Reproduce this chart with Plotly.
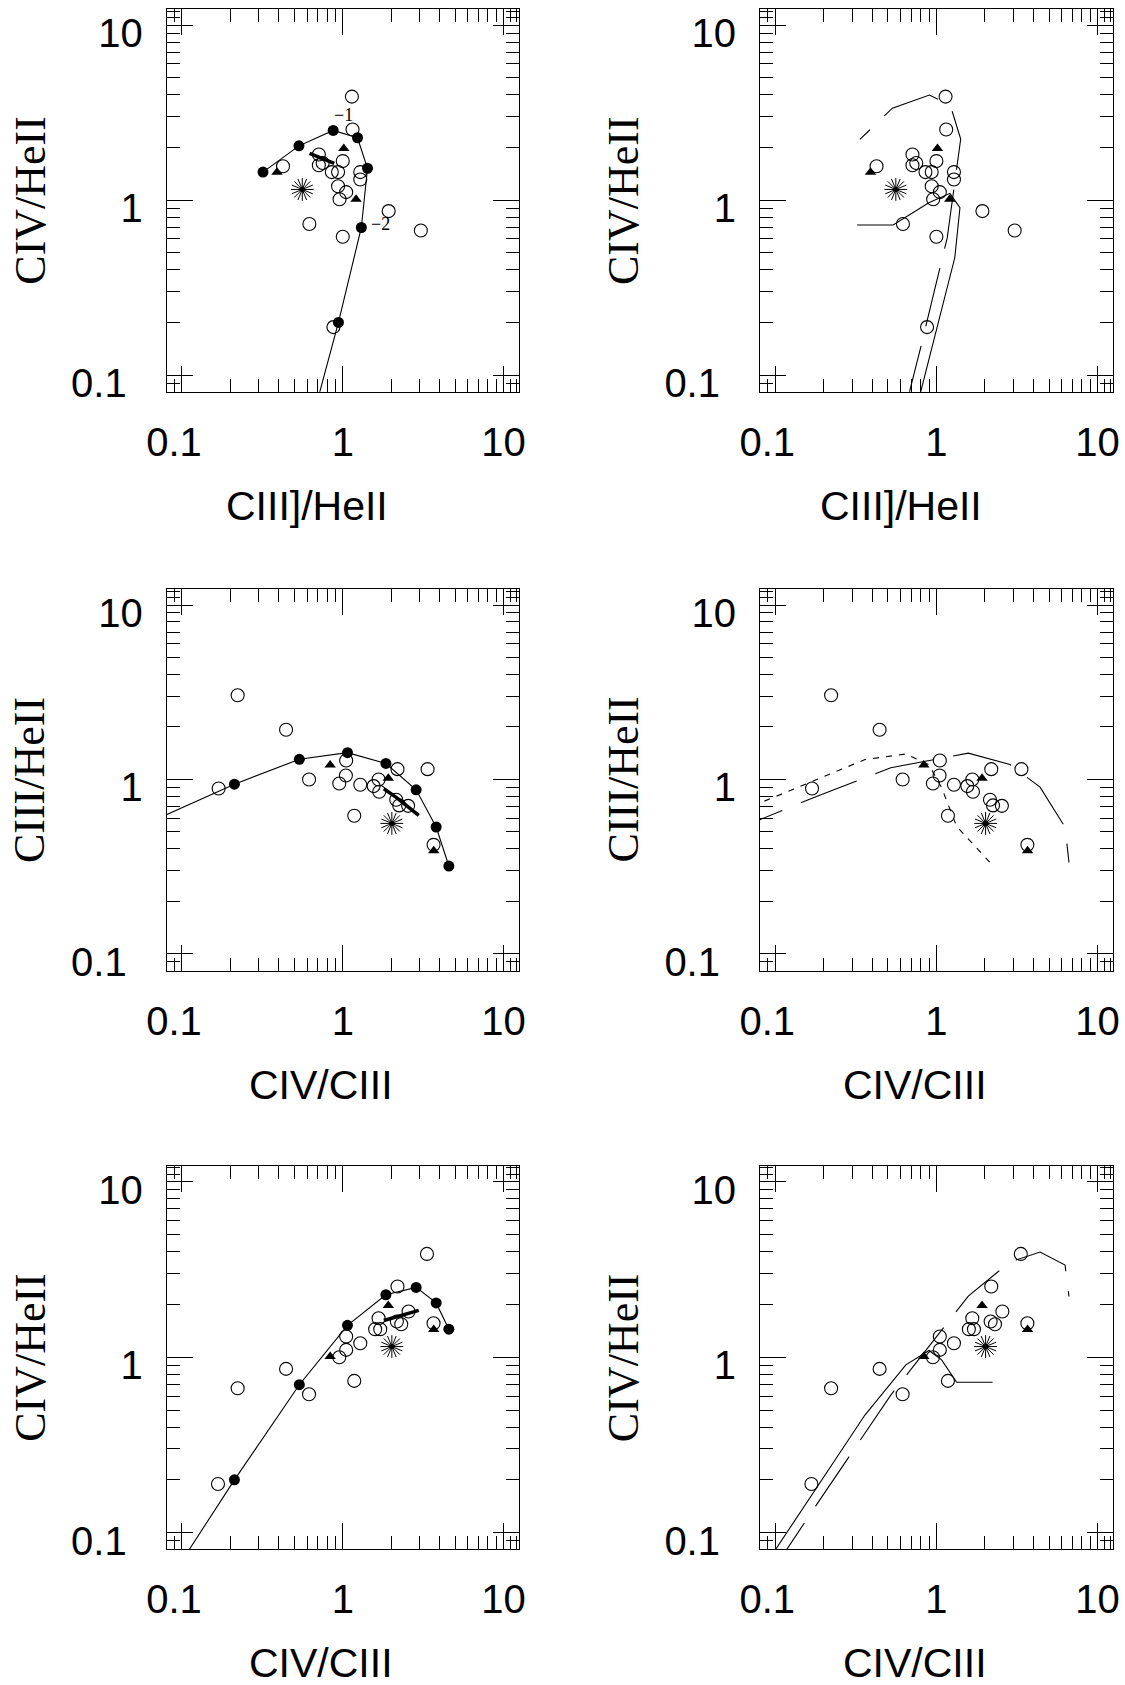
import math
import plotly.graph_objects as go

# ---------------- observed objects (read from the figure) ----------------
# top row: x = CIII]/HeII, y = CIV/HeII
top_ciii_heii = [1.14, 1.15, 0.425, 0.71, 0.75, 0.71, 0.855, 0.935, 1.0, 1.285,
                 1.285, 0.935, 1.05, 0.955, 1.93, 3.06, 0.62, 1.0, 0.875]
top_civ_heii = [3.9, 2.53, 1.56, 1.82, 1.63, 1.58, 1.445, 1.445, 1.67, 1.445,
                1.31, 1.2, 1.11, 1.01, 0.865, 0.67, 0.73, 0.617, 0.188]
# middle row: x = CIV/CIII, y = CIII/HeII
mid_civ_ciii = [0.222, 0.444, 1.05, 1.046, 0.951, 0.617, 1.285, 1.556, 1.671, 1.686,
                2.19, 3.37, 2.15, 2.245, 2.55, 1.179, 0.169, 3.67]
mid_ciii_heii = [3.04, 1.926, 1.285, 1.054, 0.949, 1.0, 0.932, 0.916, 1.0, 0.85,
                 1.146, 1.146, 0.765, 0.71, 0.706, 0.619, 0.888, 0.422]
# bottom row: x = CIV/CIII, y = CIV/HeII
bot_civ_ciii = [3.34, 2.19, 1.67, 1.59, 1.71, 2.17, 2.31, 2.566, 1.05, 1.05,
                1.285, 0.951, 0.444, 0.617, 1.179, 0.222, 0.1675, 3.67]
bot_civ_heii = [3.88, 2.53, 1.669, 1.445, 1.445, 1.598, 1.542, 1.821, 1.312, 1.101,
                1.202, 1.0, 0.858, 0.615, 0.733, 0.666, 0.1895, 1.563]

# filled triangles
tri_ciii_heii = [0.39, 1.015, 1.21]
tri_civ_heii = [1.44, 1.97, 1.01]
tri_civ_ciii = [3.68, 1.92, 0.835]

# starburst object
star_ciii_heii = [0.56]
star_civ_heii = [1.15]
star_civ_ciii = [2.02]

# thick short track
track_ciii_heii = [0.622, 0.70, 0.79, 0.885]
track_civ_heii = [1.848, 1.77, 1.70, 1.62]
track_civ_ciii = [2.97, 2.53, 2.15, 1.80]

# model sequence with filled circles (left panels)
modelA_ciii_heii = [0.55, 0.94, 1.305, 1.425, 1.235, 0.872, 0.534, 0.319]
modelA_civ_heii = [0.032, 0.200, 0.697, 1.52, 2.27, 2.50, 2.04, 1.445]
modelA_civ_ciii = [0.058, 0.212, 0.537, 1.07, 1.855, 2.86, 3.81, 4.57]
modelA_labels = ["\u22121", "\u22122"]
modelA_label_index = [5, 2]

# right-panel models
modelB_ciii_heii = [0.659, 1.30, 1.40, 1.213, 0.897, 0.539, 0.322]
modelB_civ_heii = [0.040, 0.468, 0.904, 1.092, 0.966, 0.72, 0.72]
modelB_civ_ciii = [0.0607, 0.36, 0.646, 0.90, 1.077, 1.335, 2.23]

modelC_ciii_heii = [0.492, 0.799, 1.167, 1.415, 1.219, 0.904, 0.533, 0.335]
modelC_civ_heii = [0.0246, 0.144, 0.608, 2.23, 3.49, 3.98, 3.35, 2.22]
modelC_civ_ciii = [0.05, 0.18, 0.521, 1.578, 2.86, 4.40, 6.29, 6.65]

# axis labels
major_ticks = [0.1, 1, 10]
major_text = ["0.1\u2009\u2009", "1", "10"]
minor_ticks = [0.08, 0.09, 0.2, 0.3, 0.4, 0.5, 0.6, 0.7, 0.8, 0.9,
               2, 3, 4, 5, 6, 7, 8, 9, 11, 12]

# ---------------- layout geometry (page pixels) ----------------
W, H = 1125, 1685
col_px = {"L": (166.7, 519.3), "R": (760.0, 1113.3)}
row_px = {"top": (9.3, 391.7), "mid": (589.3, 970.5), "bot": (1166.0, 1549.3)}

def fx(p):
    return p / W

def fy(p):
    return 1 - p / H

SANS = "Liberation Sans, Arial, Helvetica, sans-serif"
SERIF = "Liberation Serif, Times New Roman, serif"
BLACK = "black"

fig = go.Figure()

panels = [
    (1, "L", "top", "ciii_heii", "civ_heii", "CIII]/HeII", "CIV/HeII", "left"),
    (2, "R", "top", "ciii_heii", "civ_heii", "CIII]/HeII", "CIV/HeII", "right"),
    (3, "L", "mid", "civ_ciii", "ciii_heii", "CIV/CIII", "CIII/HeII", "left"),
    (4, "R", "mid", "civ_ciii", "ciii_heii", "CIV/CIII", "CIII/HeII", "right"),
    (5, "L", "bot", "civ_ciii", "civ_heii", "CIV/CIII", "CIV/HeII", "left"),
    (6, "R", "bot", "civ_ciii", "civ_heii", "CIV/CIII", "CIV/HeII", "right"),
]

obs = {
    "top": (top_ciii_heii, top_civ_heii),
    "mid": (mid_civ_ciii, mid_ciii_heii),
    "bot": (bot_civ_ciii, bot_civ_heii),
}
tri = {"ciii_heii": tri_ciii_heii, "civ_heii": tri_civ_heii, "civ_ciii": tri_civ_ciii}
star = {"ciii_heii": star_ciii_heii, "civ_heii": star_civ_heii, "civ_ciii": star_civ_ciii}
track = {"ciii_heii": track_ciii_heii, "civ_heii": track_civ_heii, "civ_ciii": track_civ_ciii}
mA = {"ciii_heii": modelA_ciii_heii, "civ_heii": modelA_civ_heii, "civ_ciii": modelA_civ_ciii}
mB = {"ciii_heii": modelB_ciii_heii, "civ_heii": modelB_civ_heii, "civ_ciii": modelB_civ_ciii}
mC = {"ciii_heii": modelC_ciii_heii, "civ_heii": modelC_civ_heii, "civ_ciii": modelC_civ_ciii}

annotations = []
layout_axes = {}

for idx, col, row, xk, yk, xt, yt, side in panels:
    xa = "x" if idx == 1 else f"x{idx}"
    ya = "y" if idx == 1 else f"y{idx}"
    ox, oy = obs[row]

    # open circles
    fig.add_trace(go.Scatter(x=ox, y=oy, xaxis=xa, yaxis=ya, mode="markers",
                             marker=dict(symbol="circle-open", size=13, color=BLACK,
                                         line=dict(width=1.1, color=BLACK)),
                             showlegend=False, hoverinfo="skip"))
    # triangles
    fig.add_trace(go.Scatter(x=tri[xk], y=tri[yk], xaxis=xa, yaxis=ya, mode="markers",
                             marker=dict(symbol="triangle-up", size=10, color=BLACK),
                             showlegend=False, hoverinfo="skip"))
    # starburst
    for ang in (0, 22.5):
        fig.add_trace(go.Scatter(x=star[xk], y=star[yk], xaxis=xa, yaxis=ya, mode="markers",
                                 marker=dict(symbol="asterisk-open", size=19, angle=ang,
                                             color=BLACK, line=dict(width=1, color=BLACK)),
                                 showlegend=False, hoverinfo="skip"))
    fig.add_trace(go.Scatter(x=star[xk], y=star[yk], xaxis=xa, yaxis=ya, mode="markers",
                             marker=dict(symbol="circle", size=5, color=BLACK),
                             showlegend=False, hoverinfo="skip"))

    if side == "left":
        fig.add_trace(go.Scatter(x=mA[xk], y=mA[yk], xaxis=xa, yaxis=ya, mode="lines+markers",
                                 line=dict(color=BLACK, width=1.1),
                                 marker=dict(symbol="circle", size=11, color=BLACK),
                                 showlegend=False, hoverinfo="skip"))
        fig.add_trace(go.Scatter(x=track[xk], y=track[yk], xaxis=xa, yaxis=ya, mode="lines",
                                 line=dict(color=BLACK, width=3.5),
                                 showlegend=False, hoverinfo="skip"))
        if idx == 1:
            shifts = [(10, 15), (19, 4)]
            for lab, i, (dx, dy) in zip(modelA_labels, modelA_label_index, shifts):
                annotations.append(dict(x=math.log10(mA[xk][i]), y=math.log10(mA[yk][i]),
                                        xref=xa, yref=ya, text=lab, showarrow=False,
                                        xshift=dx, yshift=dy,
                                        font=dict(family=SERIF, size=18, color=BLACK)))
    else:
        bdash = "6px,7px" if row == "mid" else "solid"
        fig.add_trace(go.Scatter(x=mB[xk], y=mB[yk], xaxis=xa, yaxis=ya, mode="lines",
                                 line=dict(color=BLACK, width=1.1, dash=bdash),
                                 showlegend=False, hoverinfo="skip"))
        fig.add_trace(go.Scatter(x=mC[xk], y=mC[yk], xaxis=xa, yaxis=ya, mode="lines",
                                 line=dict(color=BLACK, width=1.1, dash="60px,20px"),
                                 showlegend=False, hoverinfo="skip"))

    x0, x1 = col_px[col]
    y0, y1 = row_px[row]
    common = dict(type="log", showline=True, linewidth=1, linecolor=BLACK,
                  mirror="allticks", ticks="inside", ticklen=26, tickwidth=1,
                  tickcolor=BLACK, tickmode="array", tickvals=major_ticks,
                  ticktext=major_text, showgrid=False, zeroline=False, automargin=False,
                  minor=dict(ticks="inside", ticklen=13, tickwidth=1, tickcolor=BLACK,
                             tickmode="array", tickvals=minor_ticks, showgrid=False),
                  tickfont=dict(family=SANS, size=40, color=BLACK))
    layout_axes["xaxis" if idx == 1 else f"xaxis{idx}"] = dict(
        common, range=[-1.095, 1.098], domain=[fx(x0), fx(x1)], anchor=ya,
        ticklabelstandoff=15)
    layout_axes["yaxis" if idx == 1 else f"yaxis{idx}"] = dict(
        common, range=[-1.095, 1.09], domain=[fy(y1), fy(y0)], anchor=xa,
        ticklabelstandoff=15, ticklabelshift=8)

    # axis titles
    xc = (x0 + x1) / 2 - (36 if row == "top" else 22)
    annotations.append(dict(x=fx(xc), y=fy(y1 + 114), xref="paper", yref="paper",
                            text=xt, showarrow=False, xanchor="center", yanchor="middle",
                            font=dict(family=SANS, size=41, color=BLACK)))
    annotations.append(dict(x=fx(x0 - 136.5), y=fy((y0 + y1) / 2), xref="paper",
                            yref="paper", text=yt, showarrow=False, textangle=-90,
                            xanchor="center", yanchor="middle",
                            font=dict(family=SERIF, size=44, color=BLACK)))

fig.update_layout(width=W, height=H, margin=dict(l=0, r=0, t=0, b=0, autoexpand=False),
                  paper_bgcolor="white", plot_bgcolor="white",
                  annotations=annotations, **layout_axes)

fig.write_html("out.html", config={"displayModeBar": False},
               post_script="document.body.style.margin='0px';")
